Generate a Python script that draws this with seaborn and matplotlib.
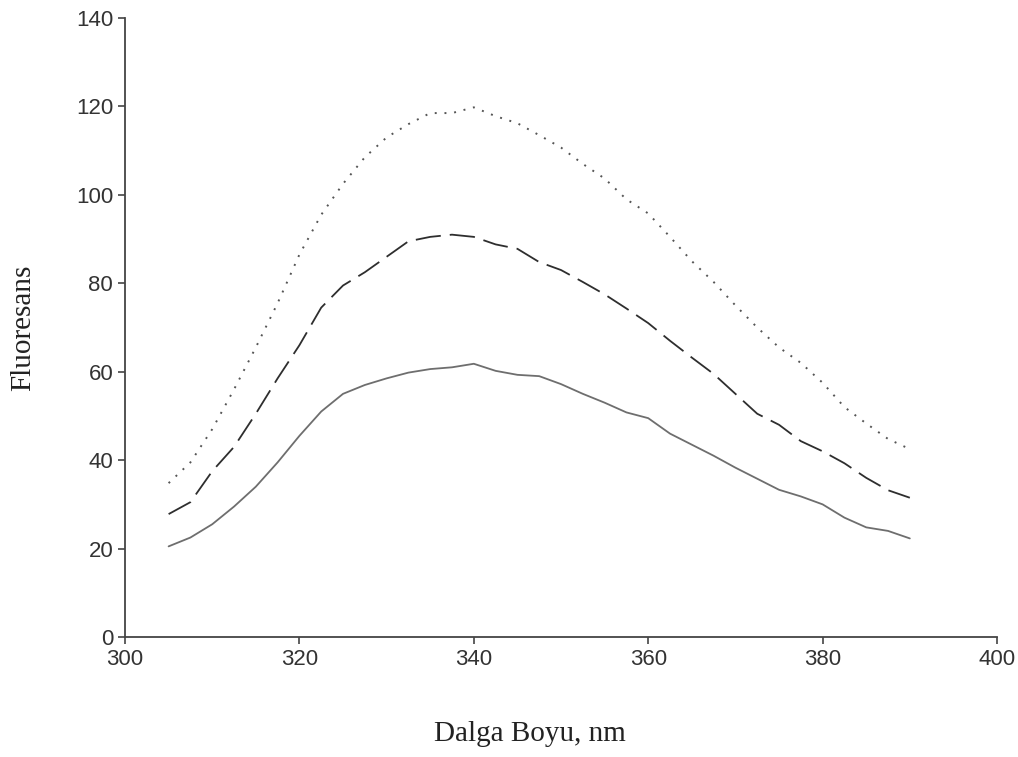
import numpy as np
import pandas as pd
import matplotlib
matplotlib.use("Agg")
import matplotlib.pyplot as plt
import seaborn as sns

# dalga boyu (nm) ve floresans değerleri
dalga = [305, 307.5, 310, 312.5, 315, 317.5, 320, 322.5, 325, 327.5, 330, 332.5,
         335, 337.5, 340, 342.5, 345, 347.5, 350, 352.5, 355, 357.5, 360, 362.5,
         365, 367.5, 370, 372.5, 375, 377.5, 380, 382.5, 385, 387.5, 390]

duz = [20.5, 22.5, 25.5, 29.5, 34.0, 39.5, 45.5, 51.0, 55.0, 57.0, 58.5, 59.8,
       60.6, 61.0, 61.8, 60.2, 59.3, 59.0, 57.2, 55.0, 53.0, 50.8, 49.5, 46.0,
       43.5, 41.0, 38.3, 35.8, 33.3, 31.8, 30.0, 27.0, 24.8, 24.0, 22.3]

kesikli = [27.8, 30.5, 37.5, 43.0, 50.5, 58.5, 66.0, 74.5, 79.5, 82.5, 86.0, 89.5,
           90.5, 91.0, 90.5, 88.8, 87.8, 84.8, 83.0, 80.3, 77.5, 74.3, 71.0, 67.0,
           63.2, 59.5, 55.0, 50.5, 48.0, 44.3, 42.0, 39.3, 36.0, 33.2, 31.5]

noktali = [34.8, 39.5, 47.0, 56.0, 65.5, 75.5, 86.5, 95.5, 102.5, 108.5, 113.0, 116.0,
           118.5, 118.5, 119.8, 117.8, 116.2, 113.5, 110.7, 107.0, 103.7, 99.0, 95.8, 90.5,
           85.0, 80.3, 75.0, 70.0, 65.5, 62.0, 57.5, 52.0, 48.3, 44.8, 42.5]

x_ticks = [300, 320, 340, 360, 380, 400]
y_ticks = [0, 20, 40, 60, 80, 100, 120, 140]

df = pd.DataFrame({"dalga": dalga, "duz": duz, "kesikli": kesikli, "noktali": noktali})

sns.set_style("ticks")
plt.rcParams['font.family'] = ['Liberation Sans', 'DejaVu Sans']

fig = plt.figure(figsize=(10.18, 7.57), dpi=100)
ax = fig.add_axes([0.1228, 0.1585, 0.8566, 0.8177])

sns.lineplot(data=df, x="dalga", y="duz", ax=ax, color="#6e6e6e", linewidth=1.3)
sns.lineplot(data=df, x="dalga", y="kesikli", ax=ax, color="#2e2e2e", linewidth=1.3,
             linestyle=(0, (14, 5)))
sns.lineplot(data=df, x="dalga", y="noktali", ax=ax, color="#555555", linewidth=1.4,
             linestyle=(0, (1, 4)))

ax.set_xlim(300, 400)
ax.set_ylim(0, 140)
ax.set_xticks(x_ticks)
ax.set_yticks(y_ticks)
ax.tick_params(axis="both", direction="out", length=5, width=1.2, color="#444444",
               labelsize=16, labelcolor="#333333")

for side in ["top", "right"]:
    ax.spines[side].set_visible(False)
for side in ["left", "bottom"]:
    ax.spines[side].set_color("#444444")
    ax.spines[side].set_linewidth(1.3)

ax.set_xlabel("Dalga Boyu, nm", fontsize=21, family=["Liberation Serif", "DejaVu Serif"], color="#222222")
ax.set_ylabel("Fluoresans", fontsize=21, family=["Liberation Serif", "DejaVu Serif"], color="#222222")
ax.xaxis.set_label_coords(0.464, -0.135)
ax.yaxis.set_label_coords(-0.102, 0.5)

fig.savefig("out.png", dpi=100)
